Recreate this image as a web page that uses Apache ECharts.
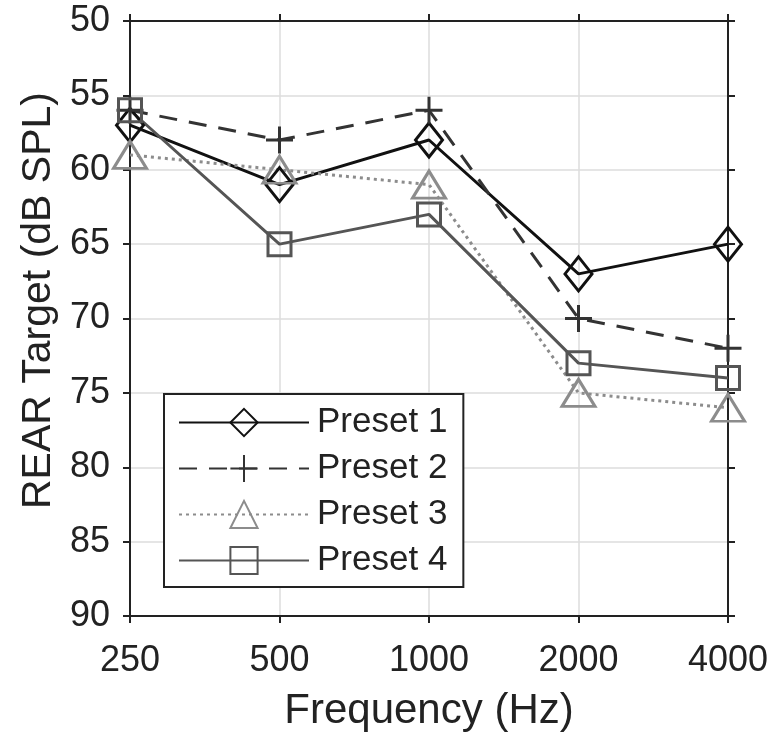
<!DOCTYPE html>
<html>
<head>
<meta charset="utf-8">
<script src="https://cdn.jsdelivr.net/npm/echarts@6/dist/echarts.min.js"></script>
<style>
html,body{margin:0;padding:0;background:#fff;}
#chart{width:776px;height:739px;}
</style>
</head>
<body>
<div id="chart"></div>
<script>
const categories = ['250', '500', '1000', '2000', '4000'];
const preset1 = [57, 61, 58, 67, 65];
const preset2 = [56, 58, 56, 70, 72];
const preset3 = [59, 60, 61, 75, 76];
const preset4 = [56, 65, 63, 73, 74];
const seriesNames = ['Preset 1', 'Preset 2', 'Preset 3', 'Preset 4'];
const yTicks = [50, 55, 60, 65, 70, 75, 80, 85, 90];

const FONT = '"Liberation Sans", Arial, Helvetica, sans-serif';
const chart = echarts.init(document.getElementById('chart'), null, {renderer: 'canvas'});

const axisLineStyle = {color: '#222', width: 2};
const clear = 'rgba(0,0,0,0)';

function lineSeries(name, data, color, lineType, lineWidth, symbol, symbolSize, borderWidth) {
  return {
    name: name,
    type: 'line',
    data: data,
    symbol: symbol,
    symbolSize: symbolSize,
    showAllSymbol: true,
    lineStyle: {color: color, width: lineWidth, type: lineType},
    itemStyle: {color: clear, borderColor: color, borderWidth: borderWidth},
    emphasis: {disabled: true},
    animation: false
  };
}

const option = {
  animation: false,
  backgroundColor: '#fff',
  textStyle: {fontFamily: FONT},
  grid: {left: 130, right: 48, top: 21, bottom: 123},
  legend: {
    left: 164,
    top: 394,
    orient: 'vertical',
    data: seriesNames,
    itemWidth: 130,
    itemHeight: 34,
    itemGap: 11,
    padding: [11, 16, 9, 14],
    borderColor: '#222',
    borderWidth: 2,
    backgroundColor: '#fff',
    textStyle: {fontSize: 35, color: '#222', fontFamily: FONT, padding: [0, 0, 0, 3]}
  },
  xAxis: [{
    type: 'category',
    data: categories,
    boundaryGap: false,
    position: 'bottom',
    name: 'Frequency (Hz)',
    nameLocation: 'middle',
    nameGap: 74,
    nameTextStyle: {fontSize: 42, color: '#222', fontFamily: FONT},
    axisLine: {lineStyle: axisLineStyle},
    axisTick: {show: true, length: 7, alignWithLabel: true, lineStyle: axisLineStyle},
    axisLabel: {fontSize: 36, color: '#222', margin: 27, fontFamily: FONT},
    splitLine: {show: true, lineStyle: {color: '#ddd', width: 1.5}}
  }, {
    type: 'category',
    data: categories,
    boundaryGap: false,
    position: 'top',
    axisLine: {show: true, lineStyle: axisLineStyle},
    axisTick: {show: true, length: 7, lineStyle: axisLineStyle},
    axisLabel: {show: false},
    splitLine: {show: false}
  }],
  yAxis: [{
    type: 'value',
    inverse: true,
    min: 50,
    max: 90,
    interval: 5,
    position: 'left',
    name: 'REAR Target (dB SPL)',
    nameLocation: 'middle',
    nameGap: 70,
    nameTextStyle: {fontSize: 41, color: '#222', fontFamily: FONT, padding: [0, 0, 0, 36]},
    axisLine: {show: true, lineStyle: axisLineStyle},
    axisTick: {show: true, length: 7, lineStyle: axisLineStyle},
    axisLabel: {fontSize: 36, color: '#222', margin: 20, fontFamily: FONT,
      formatter: function (v) { return yTicks.indexOf(v) >= 0 ? String(v) : ''; }},
    splitLine: {show: true, lineStyle: {color: '#ddd', width: 1.5}}
  }, {
    type: 'value',
    inverse: true,
    min: 50,
    max: 90,
    interval: 5,
    position: 'right',
    axisLine: {show: true, lineStyle: axisLineStyle},
    axisTick: {show: true, length: 7, lineStyle: axisLineStyle},
    axisLabel: {show: false},
    splitLine: {show: false}
  }],
  series: [
    lineSeries(seriesNames[0], preset1, '#111', 'solid', 3, 'diamond', [27, 34], 3),
    lineSeries(seriesNames[1], preset2, '#333', [18, 12], 3, 'path://M0,6L12,6M6,0L6,12', 27, 3),
    lineSeries(seriesNames[2], preset3, '#8c8c8c', [3, 4], 3, 'triangle', [33, 27], 3),
    lineSeries(seriesNames[3], preset4, '#555', 'solid', 3, 'rect', 23, 3)
  ]
};
chart.setOption(option);
</script>
</body>
</html>
